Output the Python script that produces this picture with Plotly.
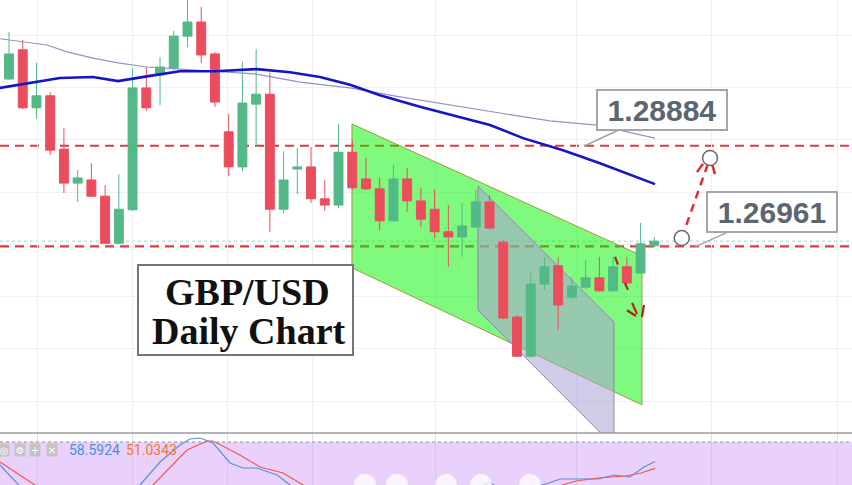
import plotly.graph_objects as go

# ---------------- data ----------------
candle_idx = list(range(48))
opens = [1.3016, 1.3072, 1.2961, 1.2984, 1.2882, 1.2817, 1.2823, 1.2792, 1.2702, 1.2766,
         1.2999, 1.3024, 1.3037, 1.3098, 1.3125, 1.3064, 1.2915, 1.2848, 1.2968, 1.2987,
         1.2767, 1.2844, 1.2848, 1.2787, 1.2775, 1.2876, 1.2825, 1.2806, 1.2745, 1.2825,
         1.2783, 1.2767, 1.2724, 1.2714, 1.2733, 1.2781, 1.2704, 1.2561, 1.2486, 1.2624,
         1.2659, 1.2599, 1.2618, 1.2636, 1.2611, 1.2657, 1.2645, 1.2697]
highs = [1.3106, 1.3091, 1.3047, 1.2991, 1.2922, 1.2842, 1.2855, 1.2813, 1.2834, 1.3037,
         1.3039, 1.3058, 1.3108, 1.3170, 1.3154, 1.3068, 1.2949, 1.3049, 1.3073, 1.3028,
         1.2878, 1.2884, 1.2886, 1.2823, 1.2930, 1.2899, 1.2865, 1.2827, 1.2852, 1.2846,
         1.2808, 1.2806, 1.2775, 1.2779, 1.2804, 1.2794, 1.2708, 1.2565, 1.2645, 1.2676,
         1.2676, 1.2637, 1.2670, 1.2676, 1.2676, 1.2676, 1.2741, 1.2714]
lows = [1.3014, 1.2958, 1.2940, 1.2871, 1.2798, 1.2781, 1.2790, 1.2701, 1.2700, 1.2764,
        1.2955, 1.2966, 1.3033, 1.3077, 1.3047, 1.2963, 1.2831, 1.2840, 1.2886, 1.2724,
        1.2760, 1.2796, 1.2779, 1.2764, 1.2769, 1.2804, 1.2804, 1.2727, 1.2743, 1.2762,
        1.2733, 1.2712, 1.2657, 1.2676, 1.2731, 1.2729, 1.2557, 1.2484, 1.2484, 1.2613,
        1.2536, 1.2594, 1.2613, 1.2609, 1.2609, 1.2624, 1.2643, 1.2695]
closes = [1.3064, 1.2961, 1.2984, 1.2880, 1.2817, 1.2827, 1.2792, 1.2702, 1.2767, 1.2999,
          1.2961, 1.3039, 1.3098, 1.3125, 1.3062, 1.2972, 1.2848, 1.2970, 1.2987, 1.2767,
          1.2823, 1.2848, 1.2787, 1.2775, 1.2876, 1.2808, 1.2806, 1.2745, 1.2825, 1.2783,
          1.2748, 1.2724, 1.2714, 1.2735, 1.2781, 1.2731, 1.2559, 1.2486, 1.2624, 1.2657,
          1.2584, 1.2620, 1.2636, 1.2611, 1.2657, 1.2626, 1.2701, 1.2706]

ma_fast_x = [-0.66, 1.75, 3.71, 6.12, 7.94, 10.27, 12.45, 15.00, 18.06, 20.47, 22.65, 24.84,
             27.02, 29.93, 32.85, 35.03, 37.44, 40.35, 43.04, 47.05]
ma_fast_y = [1.2999, 1.3010, 1.3018, 1.3020, 1.3012, 1.3022, 1.3031, 1.3031, 1.3035, 1.3029,
             1.3020, 1.3005, 1.2985, 1.2963, 1.2943, 1.2928, 1.2903, 1.2880, 1.2855, 1.2815]

ma_slow_x = [-0.66, 2.77, 4.22, 6.12, 7.94, 10.05, 12.45, 15.00, 17.92, 21.19, 24.84, 28.48,
             32.12, 35.76, 39.40, 42.83, 47.05]
ma_slow_y = [1.3093, 1.3081, 1.3068, 1.3056, 1.3047, 1.3039, 1.3035, 1.3031, 1.3026, 1.3010,
             1.2999, 1.2982, 1.2966, 1.2951, 1.2936, 1.2928, 1.2903]

stoch_k_x = [-0.66, 0.58, 1.53, 4.44, 7.36, 9.54, 11.00, 12.45, 13.18, 13.91, 14.86, 16.10,
             17.04, 18.06, 19.52, 20.47, 21.92, 25.56, 29.93, 33.58, 34.96, 36.13, 37.95,
             39.33, 40.13, 42.90, 44.06, 45.23, 46.25, 47.05]
stoch_k_y = [54.7, 32.7, 19.5, 10.7, 16.2, 32.7, 58.0, 76.7, 83.3, 84.4, 78.9, 56.9,
             51.4, 51.4, 43.7, 32.7, 16.2, 5.2, 10.7, 21.7, 36.0, 25.0, 29.4,
             34.9, 39.3, 39.3, 43.7, 41.5, 52.5, 58.5924]
stoch_d_x = [-0.66, 1.75, 2.99, 6.63, 9.54, 10.49, 12.96, 14.42, 14.86, 16.82, 18.28, 19.96,
             21.19, 22.65, 27.02, 32.12, 35.76, 39.04, 41.30, 42.90, 44.86, 46.03, 47.05]
stoch_d_y = [58.0, 32.7, 21.7, 7.4, 16.2, 32.7, 71.2, 81.1, 81.1, 65.7, 52.5, 45.9,
             36.0, 21.7, 7.4, 12.9, 21.7, 27.2, 37.1, 40.4, 42.6, 45.9, 51.0343]

level_resistance = 1.28884
level_support = 1.26961
last_price = 1.2706

channel_x = [24.98, 46.10, 46.10, 24.98]
channel_y = [1.2930, 1.2678, 1.2393, 1.2655]
inner_x = [34.16, 44.06, 44.06, 34.16]
inner_y = [1.2811, 1.2551, 1.2314, 1.2574]

proj_x = [49.00, 51.06]
proj_y = [1.2712, 1.2865]
proj_head_x = [[50.11, 50.55], [51.20, 51.42]]
proj_head_y = [[1.2838, 1.2854], [1.2854, 1.2834]]
mark_x = [[44.14, 44.35], [44.86, 45.08], [45.01, 45.67], [45.38, 45.74], [46.25, 46.10]]
mark_y = [[1.2676, 1.2661], [1.2626, 1.2613], [1.2574, 1.2563], [1.2588, 1.2567], [1.2584, 1.2561]]

grid_x = [2.11, 9.03, 15.95, 22.07, 31.03, 41.30, 51.13, 60.31]
grid_y = [1.24, 1.25, 1.26, 1.27, 1.28, 1.29, 1.30, 1.31]
toolbar_x = [25.93, 28.26, 31.83, 34.38, 37.95]

# ---------------- figure ----------------
W, H = 852, 485
split = 1 - 433 / H
fig = go.Figure()

fig.add_trace(go.Candlestick(
    x=candle_idx, open=opens, high=highs, low=lows, close=closes,
    increasing=dict(line=dict(color="#53b987", width=1), fillcolor="#53b987"),
    decreasing=dict(line=dict(color="#eb4d5c", width=1), fillcolor="#eb4d5c"),
    whiskerwidth=0, showlegend=False, xaxis="x", yaxis="y"))

fig.add_trace(go.Scatter(x=ma_slow_x, y=ma_slow_y, mode="lines",
                         line=dict(color="#8d97c4", width=1.2), showlegend=False))
fig.add_trace(go.Scatter(x=ma_fast_x, y=ma_fast_y, mode="lines",
                         line=dict(color="#1515c8", width=2.6), showlegend=False))

# projection
fig.add_trace(go.Scatter(x=proj_x, y=proj_y, mode="lines",
                         line=dict(color="#e0302c", width=2.5, dash="8px,6px"), showlegend=False))
for hx, hy in zip(proj_head_x, proj_head_y):
    fig.add_trace(go.Scatter(x=hx, y=hy, mode="lines",
                             line=dict(color="#e0302c", width=2.5), showlegend=False))
for mx, my in zip(mark_x, mark_y):
    fig.add_trace(go.Scatter(x=mx, y=my, mode="lines",
                             line=dict(color="#b8200f", width=2.2), showlegend=False))
fig.add_trace(go.Scatter(x=proj_x, y=proj_y, mode="markers",
                         marker=dict(size=15, color="white", line=dict(color="#6b6b6b", width=1.5)),
                         showlegend=False))

# stochastic panel
fig.add_trace(go.Scatter(x=stoch_k_x, y=stoch_k_y, mode="lines", xaxis="x2", yaxis="y2",
                         line=dict(color="#5b8fd9", width=1.2), showlegend=False))
fig.add_trace(go.Scatter(x=stoch_d_x, y=stoch_d_y, mode="lines", xaxis="x2", yaxis="y2",
                         line=dict(color="#ef5a4a", width=1.2), showlegend=False))

shapes = []
# stochastic band
shapes.append(dict(type="rect", xref="paper", yref="y2", x0=0, x1=1, y0=20, y1=80,
                   fillcolor="#e9d1fb", line=dict(width=0), layer="below"))
shapes.append(dict(type="line", xref="paper", yref="y2", x0=0, x1=1, y0=80, y1=80,
                   line=dict(color="#8f8f99", width=1, dash="3px,3px"), layer="between"))
# price lines
shapes.append(dict(type="line", xref="paper", yref="y", x0=0, x1=1, y0=last_price, y1=last_price,
                   line=dict(color="#9fd6cc", width=1, dash="dot"), layer="between"))
for lv in (level_resistance, level_support):
    shapes.append(dict(type="line", xref="paper", yref="y", x0=0, x1=1, y0=lv, y1=lv,
                       line=dict(color="#e4393c", width=2.2, dash="9px,6px"), layer="between"))


def poly(xs, ys):
    return "M " + " L ".join(f"{a},{b}" for a, b in zip(xs, ys)) + " Z"


shapes.append(dict(type="path", xref="x", yref="y", path=poly(channel_x, channel_y),
                   fillcolor="rgba(0,245,0,0.5)", line=dict(color="#9c9a3c", width=1), layer="between"))
shapes.append(dict(type="path", xref="x", yref="y", path=poly(inner_x, inner_y),
                   fillcolor="rgba(170,160,212,0.55)", line=dict(color="#8a86ad", width=1), layer="between"))
# separator
shapes.append(dict(type="line", xref="paper", yref="paper", x0=0, x1=1, y0=split, y1=split,
                   line=dict(color="#9a9a9a", width=1.5), layer="above"))
# title box
shapes.append(dict(type="rect", xref="paper", yref="paper", x0=138 / W, x1=353 / W,
                   y0=1 - 355 / H, y1=1 - 265 / H, fillcolor="white",
                   line=dict(color="#6f7780", width=2), layer="above"))
# toolbar blobs
for tx in toolbar_x:
    shapes.append(dict(type="circle", xref="x", yref="paper", xsizemode="pixel", ysizemode="pixel",
                       xanchor=tx, yanchor=0, x0=-11, x1=11, y0=-11, y1=11,
                       fillcolor="rgba(255,255,255,0.75)", line=dict(width=0), layer="above"))

annotations = []
title_font = dict(family="Liberation Serif, Times New Roman, serif", size=38, color="#111")
annotations.append(dict(xref="paper", yref="paper", x=248 / W, y=1 - 292 / H,
                        xanchor="center", yanchor="middle",
                        text="<b>GBP/USD</b>", showarrow=False, font=title_font))
annotations.append(dict(xref="paper", yref="paper", x=249 / W, y=1 - 331 / H,
                        xanchor="center", yanchor="middle",
                        text="<b>Daily Chart</b>", showarrow=False, font=title_font))
for px_x, lv, axx, ayy in ((41.95, level_resistance, 77, -36), (50.04, level_support, 76, -34)):
    annotations.append(dict(x=px_x, y=lv, xref="x", yref="y", ax=axx, ay=ayy,
                            text=f"<b>{lv:.5f}</b>", showarrow=True, arrowhead=6, arrowsize=0.4,
                            arrowwidth=1.5, arrowcolor="#9ea3a8",
                            bgcolor="white", bordercolor="#a3a7ab", borderwidth=2, borderpad=1,
                            width=126, height=36,
                            font=dict(family="Liberation Sans, Arial, sans-serif", size=30, color="#5b6670")))
# stochastic legend
icons = ["◎", "⚙", "+", "✕"]
icon_px = [4, 20, 35, 52]
for ic, ipx in zip(icons, icon_px):
    annotations.append(dict(xref="paper", yref="paper", x=ipx / W, y=1 - 450 / H, text=ic,
                            xanchor="center", yanchor="middle",
                            showarrow=False, bgcolor="#c3c3c3", width=10, height=12, borderpad=0,
                            font=dict(family="DejaVu Sans", size=10, color="white")))
annotations.append(dict(xref="paper", yref="paper", x=67 / W, y=1 - 450 / H,
                        xanchor="left", yanchor="middle",
                        text=f"{stoch_k_y[-1]:.4f}", showarrow=False,
                        font=dict(family="Roboto, Arial", size=14, color="#4a8fdc")))
annotations.append(dict(xref="paper", yref="paper", x=124 / W, y=1 - 450 / H,
                        xanchor="left", yanchor="middle",
                        text=f"{stoch_d_y[-1]:.4f}", showarrow=False,
                        font=dict(family="Roboto, Arial", size=14, color="#f2782c")))

grid_col = "#eef1f4"
fig.update_layout(
    width=W, height=H, margin=dict(l=0, r=0, t=0, b=0),
    paper_bgcolor="white", plot_bgcolor="white",
    showlegend=False, boxgap=0.35, boxgroupgap=0,
    shapes=shapes, annotations=annotations,
    xaxis=dict(domain=[0, 1], range=[-0.656, 61.4], anchor="y", tickvals=grid_x,
               showticklabels=False, showgrid=True, gridcolor=grid_col, zeroline=False,
               rangeslider=dict(visible=False), showline=False),
    yaxis=dict(domain=[split, 1], range=[1.233921, 1.31671], tickvals=grid_y,
               showticklabels=False, showgrid=True, gridcolor=grid_col, zeroline=False),
    xaxis2=dict(domain=[0, 1], matches="x", anchor="y2", tickvals=grid_x,
                showticklabels=False, showgrid=True, gridcolor="rgba(200,190,215,0.5)", zeroline=False),
    yaxis2=dict(domain=[0, split], range=[32.7, 89.9], showticklabels=False,
                showgrid=False, zeroline=False),
)

fig.write_html("out.html", config={"displayModeBar": False},
               post_script="document.body.style.margin='0';document.body.style.overflow='hidden';")
